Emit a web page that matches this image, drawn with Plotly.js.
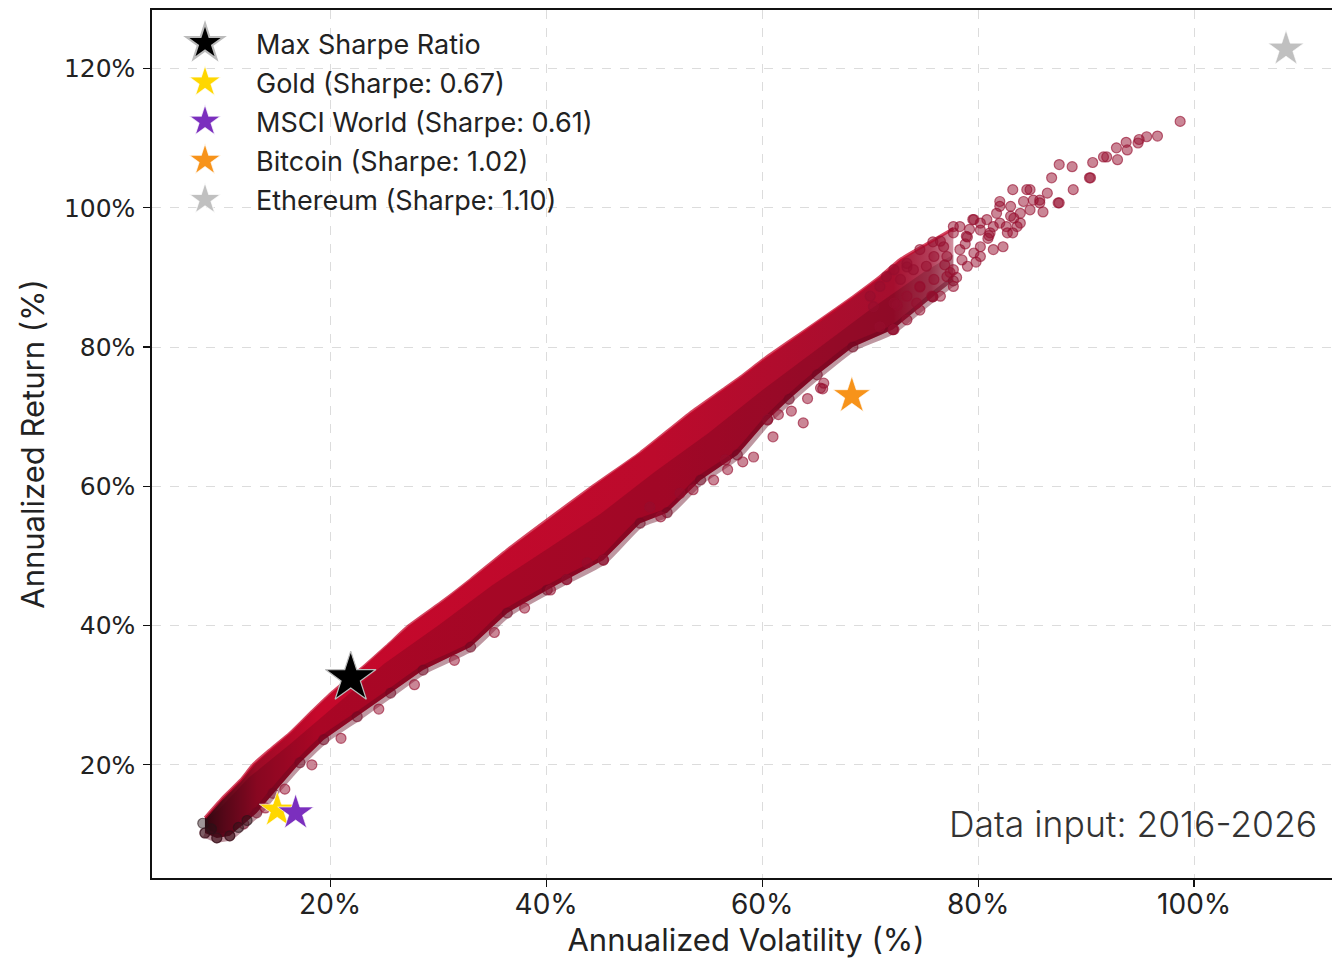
<!DOCTYPE html>
<html>
<head>
<meta charset="utf-8">
<script src="https://cdn.plot.ly/plotly-3.0.1.min.js"></script>
<style>
  html, body { margin: 0; padding: 0; background: #fff; overflow: hidden; }
  #chart { width: 1340px; height: 959px; }
</style>
</head>
<body>
<div id="chart"></div>
<script>
// ---- Data (annualized volatility %, annualized return %) ----
// Upper (efficient) edge of the dense random-portfolio cloud
const upperX = [8.4, 10.0, 11.7, 12.9, 14.6, 16.3, 18.2, 20.1, 23.1, 25.2, 27.3, 30.5, 33.0, 36.5, 40.1, 44.4, 48.7, 53.3, 56.1, 58.0, 60.1, 62.3, 65.4, 68.4, 70.9, 72.8, 75.0, 77.7];
const upperY = [12.4, 15.2, 17.8, 20.1, 22.4, 24.6, 27.5, 30.3, 34.1, 37.0, 40.0, 43.6, 46.6, 51.0, 55.2, 60.1, 64.8, 70.5, 73.6, 75.7, 78.2, 80.6, 83.9, 87.2, 90.1, 92.6, 94.6, 97.0];
// Colour-transition line inside the cloud (bright upper part / darker lower part)
const midX = [8.6, 12.5, 16.3, 20.1, 25.0, 30.0, 35.0, 40.1, 45.0, 50.0, 55.0, 60.0, 65.0, 70.0, 75.0, 77.7];
const midY = [11.8, 18.2, 23.0, 28.0, 34.5, 40.0, 45.8, 51.0, 56.0, 62.0, 67.6, 73.8, 79.6, 85.4, 90.8, 93.3];
// Lower edge of the dense cloud
const lowerX = [8.4, 9.5, 10.7, 12.0, 13.2, 14.7, 17.2, 19.4, 22.5, 25.6, 28.6, 33.0, 36.4, 40.1, 41.9, 45.3, 48.7, 51.2, 54.3, 57.7, 60.5, 62.5, 65.1, 68.4, 72.1, 75.8, 77.7];
const lowerY = [10.2, 9.5, 9.8, 11.5, 13.1, 15.9, 20.3, 23.6, 26.9, 30.3, 33.6, 36.9, 41.8, 45.1, 46.6, 49.4, 54.7, 56.2, 60.9, 64.5, 69.5, 72.5, 76.0, 80.0, 82.5, 87.2, 89.5];
// Individually visible portfolios (sparse upper-right tail and lower outliers)
const cloudX = [98.7, 96.6, 95.6, 94.9, 93.7, 92.8, 91.9, 90.6, 90.3, 88.7, 87.5, 86.8, 87.5, 83.2, 82.0, 84.8, 85.7, 83.9, 80.8, 82.6,
                77.7, 75.8, 79.5, 84.5, 86.0, 87.4, 88.8, 90.4, 91.6, 92.9, 93.8, 94.8,
                73.4, 76.8, 79.0, 80.2, 77.4, 75.8, 74.6, 78.5, 81.0, 72.5,
                81.7, 83.0, 83.3, 79.6, 78.3, 77.7, 76.5, 78.9, 80.2, 81.4, 82.7, 83.6, 79.6, 78.3, 77.1, 74.6, 75.2, 74.0,
                72.2, 72.8, 71.5, 70.9, 70.0, 70.3, 72.2, 73.4, 74.6, 75.9, 77.1, 77.7, 79.0, 80.2, 81.4, 82.3, 74.6, 73.4,
                72.2, 70.9, 76.5, 77.7, 75.7, 74.3, 75.9, 73.4,
                80.2, 81.1, 82.0, 83.0, 83.9, 84.8, 83.2, 85.7, 86.4, 85.1, 82.0, 84.2,
                78.8, 79.8, 78.0, 76.9, 80.9, 79.2,
                64.2, 62.7, 63.8, 65.4, 65.7, 61.5, 60.5, 61.0, 59.2, 58.2, 56.6, 72.1, 65.6,
                45.3, 43.8, 41.9, 40.4, 52.4, 53.6, 55.5, 56.8, 49.6, 50.6, 38.0, 35.2, 31.5, 27.8, 24.5, 21.0, 18.3, 15.8, 14.0];
const cloudY = [112.4, 110.3, 110.2, 109.8, 109.4, 108.6, 107.3, 106.5, 104.3, 105.9, 106.2, 104.3, 100.7, 102.6, 100.9, 102.6, 101.1, 99.2, 98.3, 97.3,
                97.3, 95.1, 98.3, 102.6, 99.4, 100.7, 102.6, 104.3, 107.3, 106.9, 108.3, 109.3,
                91.5, 94.4, 95.8, 94.4, 90.7, 87.2, 88.6, 92.5, 96.0, 86.0,
                99.2, 100.2, 98.5, 98.3, 97.3, 96.4, 95.2, 95.9, 96.8, 97.3, 96.4, 97.3, 93.5, 94.0, 93.0, 94.0, 91.6, 91.1,
                91.1, 89.7, 90.1, 88.7, 87.3, 85.8, 86.3, 87.3, 88.7, 89.7, 90.1, 91.1, 91.6, 93.0, 94.0, 94.4, 85.3, 83.9,
                82.5, 82.9, 87.3, 88.7, 87.3, 86.3, 93.0, 92.0,
                97.8, 96.4, 97.8, 98.8, 97.8, 99.7, 96.4, 100.7, 102.1, 101.1, 100.2, 100.9,
                94.8, 92.2, 90.0, 91.8, 95.6, 96.9,
                72.6, 70.8, 69.1, 74.1, 74.8, 70.3, 69.6, 67.1, 64.2, 63.5, 63.8, 82.5, 74.0,
                49.4, 49.0, 46.6, 45.1, 59.0, 59.5, 60.9, 62.4, 57.0, 55.6, 42.5, 39.0, 35.0, 31.5, 28.0, 23.8, 20.0, 16.5, 13.8];
// Lowest-Sharpe portfolios at the lower-left tip (near black)
const tailX = [8.4, 9.5, 10.7, 9.0, 11.5, 12.3, 8.2];
const tailY = [10.2, 9.5, 9.8, 10.8, 11.0, 12.0, 11.6];

const assetNames = ['Max Sharpe Ratio', 'Gold (Sharpe: 0.67)', 'MSCI World (Sharpe: 0.61)', 'Bitcoin (Sharpe: 1.02)', 'Ethereum (Sharpe: 1.10)'];
const assetX = [21.9, 15.1, 16.8, 68.3, 108.5];
const assetY = [32.5, 13.5, 13.1, 73.0, 122.8];
const assetColors = ['#000000', '#FFD700', '#7B2FBE', '#F7931A', '#C0C0C0'];
const assetSizes = [38, 27, 27, 28, 27];

const xTicks = [20, 40, 60, 80, 100];
const yTicks = [20, 40, 60, 80, 100, 120];

// ---- Build traces ----
const bandX = upperX.concat(lowerX.slice().reverse());
const bandY = upperY.concat(lowerY.slice().reverse());
const darkX = midX.concat(lowerX.slice().reverse());
const darkY = midY.concat(lowerY.slice().reverse());

const traces = [];
traces.push({
  x: bandX, y: bandY, type: 'scatter', mode: 'lines', fill: 'toself',
  line: { width: 0, color: 'rgba(0,0,0,0)' },
  fillgradient: {
    type: 'horizontal',
    colorscale: [[0, '#2e0810'], [0.025, '#5a0a1a'], [0.07, '#9c0a26'], [0.15, '#c6082b'], [0.6, '#bc0a2c'],
                 [0.92, 'rgba(165,14,46,1)'], [0.97, 'rgba(160,15,48,0.8)'], [1, 'rgba(155,15,48,0.45)']]
  },
  hoverinfo: 'skip', showlegend: false
});
traces.push({
  x: upperX, y: upperY, type: 'scatter', mode: 'lines',
  line: { width: 3, color: 'rgba(198,10,44,0.75)', shape: 'spline', smoothing: 0.6 },
  hoverinfo: 'skip', showlegend: false
});
traces.push({
  x: darkX, y: darkY, type: 'scatter', mode: 'lines', fill: 'toself',
  line: { width: 0, color: 'rgba(0,0,0,0)' },
  fillcolor: 'rgba(70,0,18,0.22)',
  hoverinfo: 'skip', showlegend: false
});
traces.push({
  x: lowerX, y: lowerY, type: 'scatter', mode: 'lines',
  line: { width: 9, color: 'rgba(100,6,30,0.42)', shape: 'spline', smoothing: 0.6 },
  hoverinfo: 'skip', showlegend: false
});
traces.push({
  x: lowerX, y: lowerY, type: 'scatter', mode: 'markers',
  marker: { size: 10, color: 'rgba(115,10,36,0.42)', line: { width: 1.2, color: 'rgba(115,10,36,0.55)' } },
  hoverinfo: 'skip', showlegend: false
});
traces.push({
  x: cloudX, y: cloudY, type: 'scatter', mode: 'markers',
  marker: { size: 10, color: 'rgba(150,14,46,0.5)', line: { width: 1.2, color: 'rgba(150,14,46,0.62)' } },
  hoverinfo: 'skip', showlegend: false
});
traces.push({
  x: tailX, y: tailY, type: 'scatter', mode: 'markers',
  marker: { size: 10, color: 'rgba(40,20,25,0.45)', line: { width: 1.2, color: 'rgba(40,20,25,0.6)' } },
  hoverinfo: 'skip', showlegend: false
});
for (let i = 1; i < assetNames.length; i++) {
  traces.push({
    x: [assetX[i]], y: [assetY[i]], type: 'scatter', mode: 'markers', name: assetNames[i],
    legendgroup: 'g' + i, legendrank: i + 1,
    marker: { symbol: 'star', size: assetSizes[i], color: assetColors[i], line: { width: 0.8, color: 'rgba(255,255,255,0.8)' } }
  });
}
traces.push({
  x: [assetX[0]], y: [assetY[0]], type: 'scatter', mode: 'markers', name: assetNames[0],
  legendgroup: 'g0', legendrank: 1,
  marker: { symbol: 'star', size: assetSizes[0], color: assetColors[0], line: { width: 1.2, color: '#bbbbbb' } }
});

const layout = {
  width: 1340, height: 959,
  margin: { l: 152, r: 0, t: 10, b: 81 },
  paper_bgcolor: '#fff', plot_bgcolor: '#fff',
  font: { family: 'Inter, "Noto Sans", sans-serif', color: '#222' },
  showlegend: true,
  legend: {
    x: 0.0017, y: 0.9896, xanchor: 'left', yanchor: 'top',
    bgcolor: 'rgba(255,255,255,0)', borderwidth: 0,
    font: { family: 'Inter, sans-serif', size: 27, color: '#222' },
    traceorder: 'grouped', tracegroupgap: 1, itemsizing: 'trace', itemwidth: 92
  },
  xaxis: {
    range: [3.5, 113.5], tickvals: xTicks, ticktext: xTicks.map(v => v + '%'),
    showgrid: true, gridcolor: '#dcdcdc', griddash: 'dash', gridwidth: 1,
    zeroline: false, showline: true, linecolor: '#111', linewidth: 1.6, mirror: true,
    ticks: 'outside', ticklen: 7, tickwidth: 1.4, tickcolor: '#111', ticklabelstandoff: -6,
    tickfont: { family: 'Inter, sans-serif', size: 28, color: '#222' },
    title: { text: 'Annualized Volatility (%)', font: { family: 'Inter, sans-serif', size: 31, color: '#222' }, standoff: 8 }
  },
  yaxis: {
    range: [3.74, 128.4], tickvals: yTicks, ticktext: yTicks.map(v => v + '%'),
    showgrid: true, gridcolor: '#dcdcdc', griddash: 'dash', gridwidth: 1,
    zeroline: false, showline: true, linecolor: '#111', linewidth: 1.6, mirror: true,
    ticks: 'outside', ticklen: 7, tickwidth: 1.4, tickcolor: '#111', ticklabelstandoff: 3,
    tickfont: { family: '"DejaVu Sans", sans-serif', size: 25, color: '#222' },
    title: { text: 'Annualized Return (%)', font: { family: 'Inter, sans-serif', size: 31, color: '#222' }, standoff: 10 }
  },
  annotations: [{
    text: 'Data input: 2016-2026', xref: 'paper', yref: 'paper',
    x: (1319 - 152) / (1340 - 152), y: (878 - 824) / 868, xanchor: 'right', yanchor: 'middle',
    showarrow: false, font: { family: 'Inter, sans-serif', size: 35.5, color: '#333', weight: 300 }
  }]
};

Plotly.newPlot('chart', traces, layout, { displayModeBar: false, staticPlot: true }).then(gd => {
  gd.querySelectorAll('.legend .traces').forEach(tr => {
    const t = tr.querySelector('.legendtext');
    const pt = tr.querySelector('.legendpoints path');
    if (!t || !pt) return;
    const k = t.textContent.indexOf('Max') === 0 ? 1.75 : 1.5;
    pt.setAttribute('transform', (pt.getAttribute('transform') || '') + ' scale(' + k + ')');
  });
});
</script>
</body>
</html>
